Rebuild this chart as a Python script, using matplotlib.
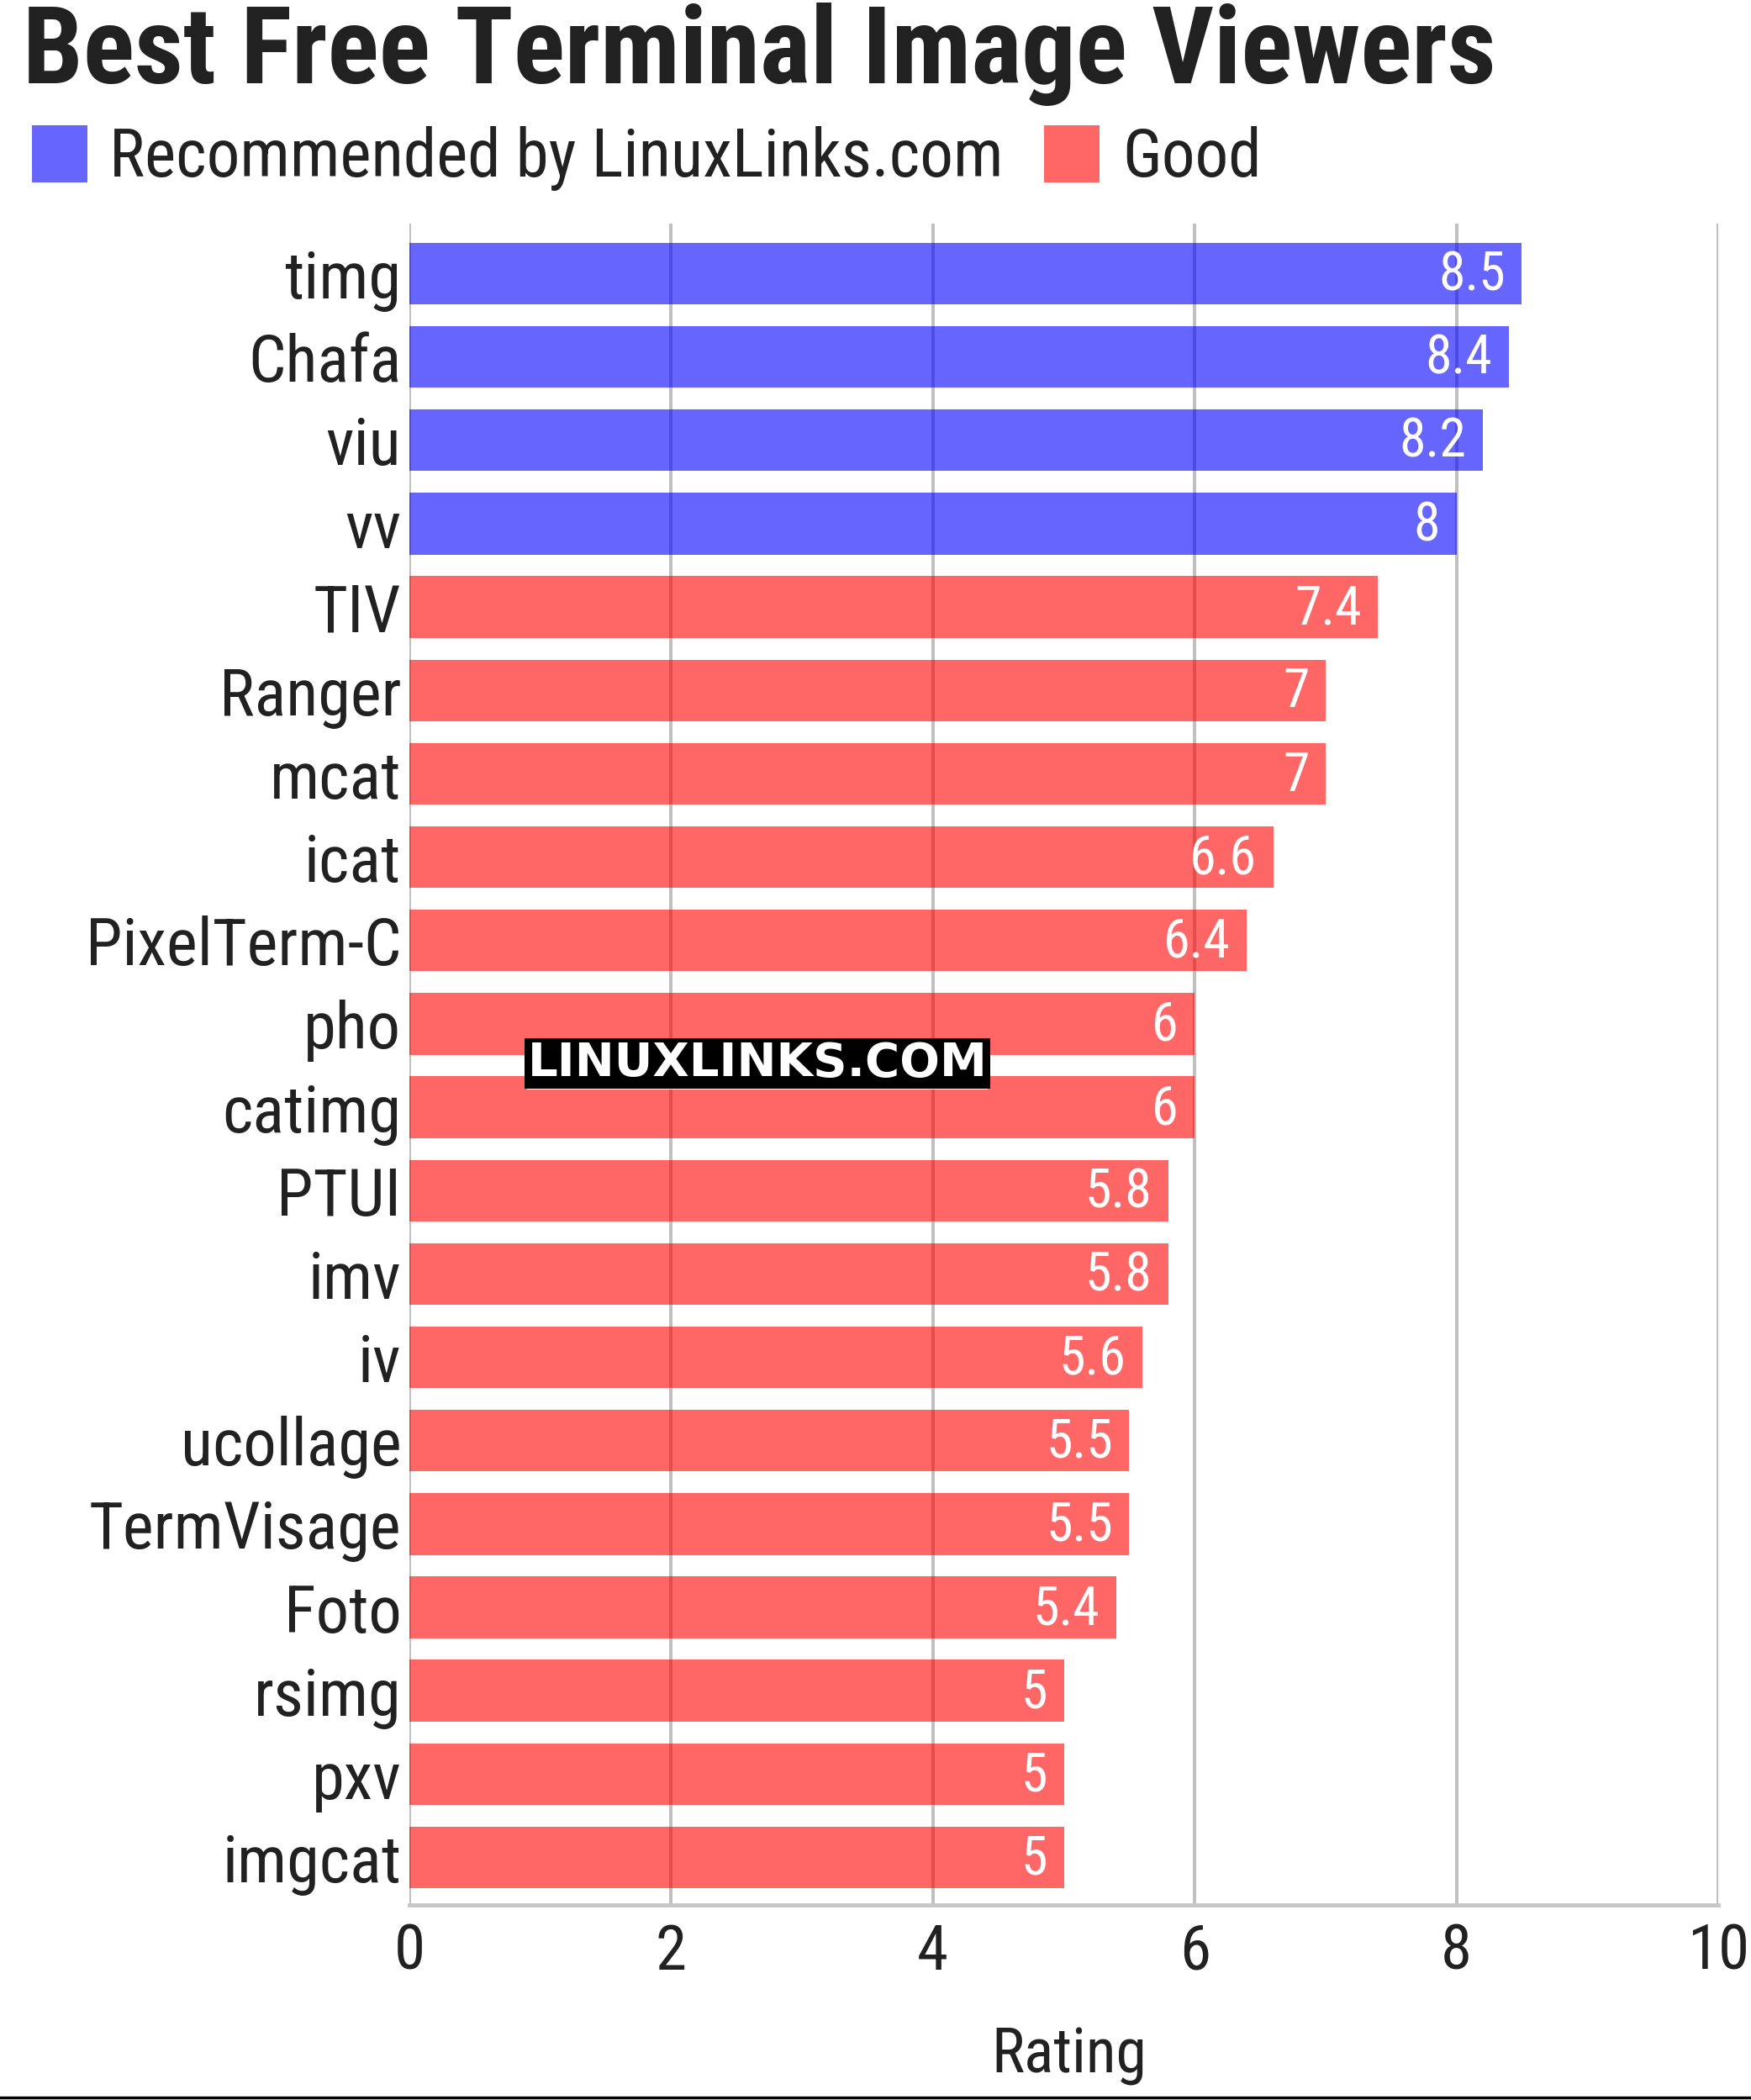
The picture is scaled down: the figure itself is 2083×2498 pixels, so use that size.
import matplotlib
matplotlib.use("Agg")
import matplotlib.pyplot as plt
from matplotlib.patches import Rectangle
from matplotlib.lines import Line2D

# Data
names = ['timg', 'Chafa', 'viu', 'vv', 'TIV', 'Ranger', 'mcat', 'icat',
         'PixelTerm-C', 'pho', 'catimg', 'PTUI', 'imv', 'iv', 'ucollage',
         'TermVisage', 'Foto', 'rsimg', 'pxv', 'imgcat']
ratings = [8.5, 8.4, 8.2, 8, 7.4, 7, 7, 6.6, 6.4, 6, 6, 5.8, 5.8, 5.6, 5.5,
           5.5, 5.4, 5, 5, 5]
groups = ['rec'] * 4 + ['good'] * 16
group_labels = {'rec': 'Recommended by LinuxLinks.com', 'good': 'Good'}
x_ticks = [0, 2, 4, 6, 8, 10]

# bars are translucent, so the grid shows through them
colors = {'rec': (0, 0, 1, 0.6), 'good': (1, 0, 0, 0.6)}
TXT = '#212121'

FONT = ['Roboto Condensed', 'Roboto', 'DejaVu Sans']
plt.rcParams['font.family'] = FONT

W, H = 2083, 2498
fig = plt.figure(figsize=(W / 100, H / 100), dpi=100)

# axes placement in pixels
ax_l, ax_r, ax_t, ax_b = 487, 2044, 266, 2266
ax = fig.add_axes([ax_l / W, 1 - ax_b / H, (ax_r - ax_l) / W, (ax_b - ax_t) / H])

ypos = list(range(len(names)))
ax.barh(ypos, ratings, height=0.74, color=[colors[g] for g in groups],
        linewidth=0, zorder=3)

for y, v in zip(ypos, ratings):
    ax.annotate(f'{v:g}', xy=(v, y), xytext=(-14, -1.5), textcoords='offset points',
                ha='right', va='center', color='white', fontsize=46, zorder=4)

ax.set_xlim(0, 10)
ax.set_ylim(19.57, -0.6)
ax.set_xticks(x_ticks)
ax.set_xticklabels([str(t) for t in x_ticks])
ax.set_yticks(ypos)
ax.set_yticklabels(names)
ax.tick_params(axis='x', length=0, pad=15, labelsize=54, labelcolor=TXT)
ax.tick_params(axis='y', length=0, pad=7, labelsize=56.5, labelcolor=TXT)

# vertical grid under the bars
for t in x_ticks:
    ax.axvline(t, color='#c0c0c0', lw=2.9, zorder=1)

for s in ['top', 'right', 'left']:
    ax.spines[s].set_visible(False)
ax.spines['bottom'].set_color('#c6c6c6')
ax.spines['bottom'].set_linewidth(3.5)
ax.spines['bottom'].set_zorder(5)

# title
fig.text(27 / W, 1 - 99 / H, 'Best Free Terminal Image Viewers',
         fontsize=92, fontweight='bold', color=TXT, ha='left', va='baseline')

# legend
legend_items = [('rec', 38, 130), ('good', 1242, 1335)]
for g, sx, tx in legend_items:
    fig.patches.append(Rectangle((sx / W, 1 - 217 / H), 66 / W, 68 / H,
                                 transform=fig.transFigure, color=colors[g],
                                 linewidth=0))
    fig.text(tx / W, 1 - 210 / H, group_labels[g], fontsize=57, color=TXT,
             ha='left', va='baseline')

# x axis title
fig.text(1272 / W, 1 - 2465 / H, 'Rating', fontsize=53, color=TXT,
         ha='center', va='baseline')

# watermark: black box with a thin white strip under it
fig.patches.append(Rectangle((627 / W, 1 - 1296 / H), 548 / W, 8 / H,
                             transform=fig.transFigure, color='white',
                             linewidth=0, zorder=9))
fig.text(901 / W, 1 - 1265 / H, 'LINUXLINKS.COM', fontsize=40.5,
         family='DejaVu Sans', fontweight='bold', color='white',
         ha='center', va='center', zorder=10,
         bbox=dict(boxstyle='square,pad=0.06', facecolor='black',
                   edgecolor='white', linewidth=0))

# black rule at the bottom edge
fig.add_artist(Line2D([0, 1], [1 - 2495 / H, 1 - 2495 / H],
                      transform=fig.transFigure, color='black', lw=2.5))

fig.savefig('out.png', dpi=100)
